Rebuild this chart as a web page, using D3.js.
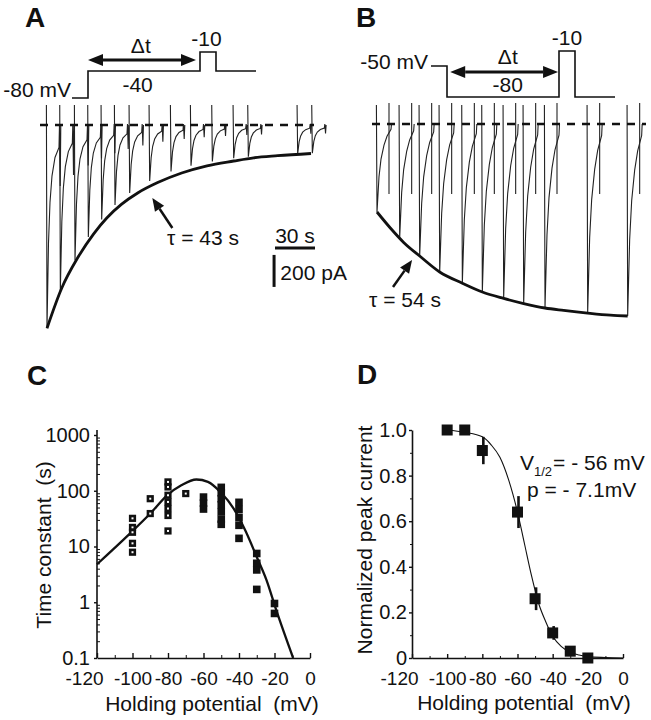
<!DOCTYPE html>
<html>
<head>
<meta charset="utf-8">
<script src="https://cdn.jsdelivr.net/npm/d3@7"></script>
<style>
body { margin: 0; background: #fff; }
svg { font-family: "Liberation Sans", Arial, sans-serif; }
</style>
</head>
<body>
<svg id="fig" width="651" height="720"></svg>
<script>
// ---------- data ----------
// A: sweep times (s) and peak inward current (pA), recovery at -40 mV
var sweepTimeA = [0, 10, 21, 31, 41, 51, 62, 77, 93, 108, 124, 140, 151, 188, 199];
var peakA = [1270, 1040, 845, 700, 590, 500, 425, 350, 290, 255, 228, 208, 198, 180, 176];
// A: exponential fit (tau = 43 s)
var fitTimeA = [0, 11, 23, 35, 45, 56, 68, 83, 101, 120, 140, 155, 173, 198];
var fitA = [1270, 1020, 830, 680, 580, 495, 425, 360, 300, 255, 225, 205, 192, 178];

// B: sweep times (s) and peak current (pA), development at -80 mV
var sweepTimeB = [0, 17, 32, 47, 64, 79, 95, 110, 126, 158, 188];
var peakB = [550, 712, 825, 930, 995, 1050, 1087, 1125, 1150, 1181, 1200];
// B: exponential fit (tau = 54 s)
var fitTimeB = [0, 10, 20, 32, 47, 64, 79, 95, 110, 126, 140, 158, 175, 188];
var fitB = [550, 650, 740, 825, 925, 995, 1050, 1090, 1122, 1150, 1165, 1182, 1195, 1200];

// protocols (schematic time units, mV)
var protoT = [0, 1, 1, 8, 8, 9, 9, 11.5];
var protoVA = [-80, -80, -40, -40, -10, -10, -40, -40];
var protoVB = [-50, -50, -80, -80, -10, -10, -80, -80];

// C: time constants (s) vs holding potential (mV)
var openV = [-100, -100, -100, -100, -100, -90, -90, -80, -80, -80, -80, -80, -80, -80, -70];
var openTau = [32, 22, 18, 11.4, 7.9, 72, 39, 144, 117, 83, 63, 48, 36, 19, 89];
var filledV = [-60, -60, -60, -50, -50, -50, -50, -50, -50, -50, -40, -40, -40, -40, -40, -30, -30, -30, -30, -20, -20];
var filledTau = [77, 60, 47, 115, 92, 72, 56, 42, 31, 25, 62, 46, 33, 24, 14, 7.5, 5, 3.8, 1.7, 0.95, 0.63];
var fitVC = [-120, -101.5, -90, -80.5, -72.5, -64, -57.5, -50.5, -43, -36.5, -30, -24.5, -19, -9.5];
var fitTauC = [4.8, 17, 39, 83, 125, 159, 144, 95, 48, 19.5, 6.5, 2.5, 0.72, 0.1];
var tauTicks = [0.1, 1, 10, 100, 1000];
var vTicks = [-120, -100, -80, -60, -40, -20, 0];

// D: normalized peak current vs holding potential
var dV = [-100, -90, -80, -60, -50, -40, -30, -20];
var dI = [1.0, 1.0, 0.91, 0.64, 0.26, 0.11, 0.03, 0.0];
var dErr = [0, 0, 0.06, 0.07, 0.05, 0.03, 0, 0];
var fitVD = [-100, -90, -80, -75, -70, -65, -60, -56, -52, -48, -44, -40, -35, -30, -25, -20, -10, 0];
var fitID = [1.0, 0.99, 0.97, 0.935, 0.88, 0.78, 0.64, 0.5, 0.36, 0.24, 0.16, 0.095, 0.05, 0.025, 0.013, 0.006, 0.002, 0.0];
var iTicks = [0, 0.2, 0.4, 0.6, 0.8, 1.0];

// ---------- drawing ----------
var svg = d3.select('#fig');
var ink = '#111';

function txt(x, y, s, size, anchor, weight) {
    return svg.append('text').attr('x', x).attr('y', y)
        .attr('font-size', size).attr('text-anchor', anchor || 'start')
        .attr('font-weight', weight || 'normal').attr('fill', ink)
        .style('white-space', 'pre').text(s);
}

function head(x1, y1, x2, y2, len, hw) {
    // filled triangle at (x2,y2) pointing away from (x1,y1)
    var a = Math.atan2(y2 - y1, x2 - x1);
    var bx = x2 - len * Math.cos(a), by = y2 - len * Math.sin(a);
    var px = -Math.sin(a) * hw, py = Math.cos(a) * hw;
    svg.append('path')
        .attr('d', 'M' + x2 + ',' + y2 + 'L' + (bx + px) + ',' + (by + py) + 'L' + (bx - px) + ',' + (by - py) + 'Z')
        .attr('fill', ink);
    return [bx, by];
}

function arrow(x1, y1, x2, y2, w) {
    var b = head(x1, y1, x2, y2, 13, 5.5);
    svg.append('line').attr('x1', x1).attr('y1', y1).attr('x2', b[0]).attr('y2', b[1])
        .attr('stroke', ink).attr('stroke-width', w);
}

function dblArrow(x1, x2, y) {
    var a = head(x2, y, x1, y, 15, 6);
    var b = head(x1, y, x2, y, 15, 6);
    svg.append('line').attr('x1', a[0]).attr('y1', y).attr('x2', b[0]).attr('y2', y)
        .attr('stroke', ink).attr('stroke-width', 3);
}

var line = d3.line();

// panel letters
txt(25, 27, 'A', 28, 'start', 'bold');
txt(356, 27, 'B', 28, 'start', 'bold');
txt(27, 385, 'C', 28, 'start', 'bold');
txt(357, 384, 'D', 28, 'start', 'bold');

// ---- protocols ----
var pxA = d3.scaleLinear().domain([0, 11.5]).range([72, 256]);
var pyA = d3.scaleLinear().domain([-80, -40, -10]).range([98, 71, 52]);
var pxB = d3.scaleLinear().domain([0, 11.5]).range([431, 615]);
var pyB = d3.scaleLinear().domain([-80, -50, -10]).range([97, 66, 51]);

svg.append('path')
    .attr('d', line(protoT.map(function (t, i) { return [pxA(t), pyA(protoVA[i])]; })))
    .attr('fill', 'none').attr('stroke', ink).attr('stroke-width', 1.6);
svg.append('path')
    .attr('d', line(protoT.map(function (t, i) { return [pxB(t), pyB(protoVB[i])]; })))
    .attr('fill', 'none').attr('stroke', ink).attr('stroke-width', 1.6);

txt(pxA(0) - 1, pyA(-80) - 1, '-80 mV', 21, 'end');
txt(pxA(4.1), pyA(-40) + 21, '-40', 21, 'middle');
txt(pxA(4.3), pyA(-40) - 18, '\u0394t', 21, 'middle');
txt(pxA(8.4), pyA(-10) - 6, '-10', 21, 'middle');
dblArrow(pxA(1), pxA(7.75), pyA(-40) - 11);

txt(pxB(0) - 3, pyB(-50) + 3, '-50 mV', 21, 'end');
txt(pxB(4.8), pyB(-50) - 2, '\u0394t', 21, 'middle');
txt(pxB(4.8), pyB(-80) - 5, '-80', 21, 'middle');
txt(pxB(8.5), pyB(-10) - 6, '-10', 21, 'middle');
dblArrow(pxB(1.2), pxB(7.94), pyB(-50) + 6);

// ---- current traces ----
var xA = d3.scaleLinear().domain([0, 30]).range([47, 87]);
var yA = d3.scaleLinear().domain([0, 200]).range([125, 157]);
var xB = d3.scaleLinear().domain([0, 30]).range([377, 417]);
var yB = d3.scaleLinear().domain([0, 200]).range([124, 156]);

var recA = [[1.5, 0.42], [3, 0.62], [5, 0.75], [8, 0.84], [12, 0.89]];
var recB = [[2, 0.4], [4, 0.6], [7, 0.76], [10, 0.86], [14, 0.94]];

sweepTimeA.forEach(function (t, i) {
    var x = xA(t), py = yA(peakA[i]), base = yA(0), d = py - base;
    var pts = [[x - 0.6, 105], [x, py]];
    recA.forEach(function (s) { pts.push([x + s[0], py - s[1] * d]); });
    pts.push([x + 12.5, base - 1]);
    pts.push([x + 13.2, base + 0.3 * d]);
    pts.push([x + 13.8, base]);
    svg.append('path').attr('d', line(pts))
        .attr('fill', 'none').attr('stroke', '#222').attr('stroke-width', 1.1);
});

sweepTimeB.forEach(function (t, i) {
    var x = xB(t), py = yB(peakB[i]), base = yB(0), d = py - base;
    var pts = [[x - 0.6, 105], [x, py]];
    recB.forEach(function (s) { pts.push([x + s[0], py - s[1] * d]); });
    pts.push([x + 14.5, base]);
    svg.append('path').attr('d', line(pts))
        .attr('fill', 'none').attr('stroke', '#222').attr('stroke-width', 1.1);
    svg.append('line').attr('x1', x + 12).attr('x2', x + 12)
        .attr('y1', 103).attr('y2', base + 70)
        .attr('stroke', '#222').attr('stroke-width', 1.1);
});

// baselines (dashed)
svg.append('line').attr('x1', 40).attr('x2', 314).attr('y1', yA(0)).attr('y2', yA(0))
    .attr('stroke', ink).attr('stroke-width', 2.5).attr('stroke-dasharray', '8,7');
svg.append('line').attr('x1', 372).attr('x2', 646).attr('y1', yB(0)).attr('y2', yB(0))
    .attr('stroke', ink).attr('stroke-width', 2.5).attr('stroke-dasharray', '8,7');

// fitted envelopes
var fitLine = d3.line().curve(d3.curveMonotoneX);
svg.append('path')
    .attr('d', fitLine(fitTimeA.map(function (t, i) { return [xA(t), yA(fitA[i])]; })))
    .attr('fill', 'none').attr('stroke', ink).attr('stroke-width', 2.8);
svg.append('path')
    .attr('d', fitLine(fitTimeB.map(function (t, i) { return [xB(t), yB(fitB[i])]; })))
    .attr('fill', 'none').attr('stroke', ink).attr('stroke-width', 2.8);

// tau annotations
arrow(xA(94), yA(644), xA(79), yA(456), 2.5);
txt(xA(90), yA(750), '\u03c4 = 43 s', 21);
arrow(xB(12), yB(1019), xB(26.3), yB(850), 2.5);
txt(xB(-6), yB(1144), '\u03c4 = 54 s', 21);

// scale bars
svg.append('line').attr('x1', xA(171)).attr('x2', xA(201)).attr('y1', yA(769)).attr('y2', yA(769))
    .attr('stroke', ink).attr('stroke-width', 3);
svg.append('line').attr('x1', xA(170.3)).attr('x2', xA(170.3)).attr('y1', yA(812)).attr('y2', yA(1012))
    .attr('stroke', ink).attr('stroke-width', 3);
txt(xA(186), yA(738), '30 s', 21, 'middle');
txt(xA(175), yA(970), '200 pA', 21);

// ---- panel C ----
var xC = d3.scaleLinear().domain([-120, 0]).range([97, 310]);
var yC = d3.scaleLog().domain([0.1, 1000]).range([658, 435]);

function styleAxis(g, size) {
    g.attr('font-family', null).attr('font-size', size);
    g.select('.domain').attr('stroke', ink).attr('stroke-width', 1.6);
    g.selectAll('.tick line').attr('stroke', ink).attr('stroke-width', 1.4);
    g.selectAll('.tick text').attr('fill', ink);
}

var minorC = [];
[0.1, 1, 10, 100].forEach(function (dec) {
    for (var k = 2; k <= 9; k++) minorC.push(dec * k);
});
svg.append('g').attr('transform', 'translate(97,0)')
    .call(d3.axisLeft(yC).tickValues(minorC).tickSize(-3).tickFormat(''))
    .call(function (g) { g.select('.domain').remove(); g.selectAll('line').attr('stroke', ink); });

var gCy = svg.append('g').attr('transform', 'translate(97,0)')
    .call(d3.axisLeft(yC).tickValues(tauTicks).tickFormat(function (d) { return String(d); })
        .tickSizeInner(3).tickSizeOuter(0).tickPadding(4));
styleAxis(gCy, 20);
gCy.select('.domain').attr('d', 'M0,658V430');

var gCx = svg.append('g').attr('transform', 'translate(0,658)')
    .call(d3.axisBottom(xC).tickValues(vTicks).tickFormat(function (d) { return String(d); })
        .tickSizeInner(-5).tickSizeOuter(0).tickPadding(14));
styleAxis(gCx, 19);
gCx.selectAll('.tick text').filter(function (d) { return d === -120; }).attr('dx', -13);
svg.append('g').attr('transform', 'translate(0,658)')
    .call(d3.axisBottom(xC).tickValues([-110, -90, -70, -50, -30, -10]).tickSize(-3).tickFormat(''))
    .call(function (g) { g.select('.domain').remove(); g.selectAll('line').attr('stroke', ink); });

svg.append('path')
    .attr('d', fitLine(fitVC.map(function (v, i) { return [xC(v), yC(fitTauC[i])]; })))
    .attr('fill', 'none').attr('stroke', ink).attr('stroke-width', 2.3);

svg.selectAll('rect.open').data(openV).enter().append('rect').attr('class', 'open')
    .attr('x', function (d) { return xC(d) - 2.3; })
    .attr('y', function (d, i) { return yC(openTau[i]) - 2.3; })
    .attr('width', 4.6).attr('height', 4.6)
    .attr('fill', '#fff').attr('stroke', ink).attr('stroke-width', 2.6);
svg.selectAll('rect.filled').data(filledV).enter().append('rect').attr('class', 'filled')
    .attr('x', function (d) { return xC(d) - 3.8; })
    .attr('y', function (d, i) { return yC(filledTau[i]) - 3.8; })
    .attr('width', 7.6).attr('height', 7.6).attr('fill', ink);

svg.append('text').attr('transform', 'translate(51,545) rotate(-90)')
    .attr('text-anchor', 'middle').attr('font-size', 21).attr('fill', ink)
    .style('white-space', 'pre').text('Time constant  (s)');
txt(212, 711, 'Holding potential  (mV)', 21, 'middle');

// ---- panel D ----
var xD = d3.scaleLinear().domain([-120, 0]).range([412, 623]);
var yD = d3.scaleLinear().domain([0, 1]).range([658, 430]);

svg.append('g').attr('transform', 'translate(412,0)')
    .call(d3.axisLeft(yD).tickValues([0.1, 0.3, 0.5, 0.7, 0.9]).tickSize(2).tickFormat(''))
    .call(function (g) { g.select('.domain').remove(); g.selectAll('line').attr('stroke', ink); });
var gDy = svg.append('g').attr('transform', 'translate(412,0)')
    .call(d3.axisLeft(yD).tickValues(iTicks)
        .tickFormat(function (d) { return d === 0 ? '0' : d.toFixed(1); })
        .tickSizeInner(3).tickSizeOuter(0).tickPadding(2));
styleAxis(gDy, 20);
var gDx = svg.append('g').attr('transform', 'translate(0,658)')
    .call(d3.axisBottom(xD).tickValues(vTicks).tickFormat(function (d) { return String(d); })
        .tickSizeInner(-4).tickSizeOuter(0).tickPadding(14));
styleAxis(gDx, 19);
gDx.selectAll('.tick text').filter(function (d) { return d === -120; }).attr('dx', -13);
svg.append('g').attr('transform', 'translate(0,658)')
    .call(d3.axisBottom(xD).tickValues([-110, -90, -70, -50, -30, -10]).tickSize(-2).tickFormat(''))
    .call(function (g) { g.select('.domain').remove(); g.selectAll('line').attr('stroke', ink); });

svg.append('path')
    .attr('d', fitLine(fitVD.map(function (v, i) { return [xD(v), yD(fitID[i])]; })))
    .attr('fill', 'none').attr('stroke', ink).attr('stroke-width', 1.1);

svg.selectAll('line.err').data(dV).enter().append('line').attr('class', 'err')
    .attr('x1', function (d) { return xD(d) + 1; }).attr('x2', function (d) { return xD(d) + 1; })
    .attr('y1', function (d, i) { return yD(dI[i] - dErr[i]); })
    .attr('y2', function (d, i) { return yD(dI[i] + dErr[i]); })
    .attr('stroke', ink).attr('stroke-width', 2.6);
svg.selectAll('rect.dpt').data(dV).enter().append('rect').attr('class', 'dpt')
    .attr('x', function (d) { return xD(d) - 5.5; })
    .attr('y', function (d, i) { return yD(dI[i]) - 5.5; })
    .attr('width', 11).attr('height', 11).attr('fill', ink);

var ann = svg.append('text').attr('x', 520).attr('y', 470).attr('font-size', 21).attr('fill', ink)
    .style('white-space', 'pre');
ann.append('tspan').text('V');
ann.append('tspan').attr('font-size', 13).attr('dy', 6).text('1/2');
ann.append('tspan').attr('dy', -6).attr('dx', 1).text('= - 56 mV');
txt(527, 497, 'p = - 7.1mV', 21);

svg.append('text').attr('transform', 'translate(372,540) rotate(-90)')
    .attr('text-anchor', 'middle').attr('font-size', 21).attr('fill', ink)
    .text('Normalized peak current');
txt(524, 710, 'Holding potential  (mV)', 21, 'middle');
</script>
</body>
</html>
